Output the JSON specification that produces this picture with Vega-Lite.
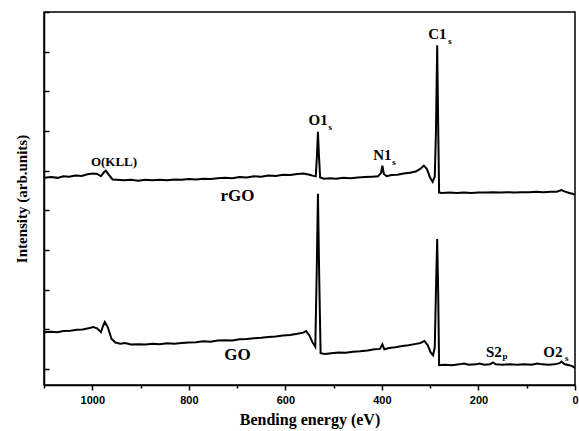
{
  "$schema": "https://vega.github.io/schema/vega-lite/v6.json",
  "width": 531,
  "height": 373,
  "autosize": "none",
  "padding": {"left": 44, "top": 12, "right": 4, "bottom": 46},
  "background": "white",
  "config": {
    "view": {"stroke": "black", "strokeWidth": 1.5},
    "axis": {"grid": false, "domainColor": "black", "domainWidth": 1.5, "tickColor": "black", "tickWidth": 1.5, "labelColor": "black", "titleColor": "black"}
  },
  "datasets": {
    "spectra": [
      {"series": "rGO", "energy": 1100, "intensity": 4.82},
      {"series": "rGO", "energy": 1085, "intensity": 4.84},
      {"series": "rGO", "energy": 1072, "intensity": 4.82},
      {"series": "rGO", "energy": 1060, "intensity": 4.86},
      {"series": "rGO", "energy": 1048, "intensity": 4.85},
      {"series": "rGO", "energy": 1035, "intensity": 4.88},
      {"series": "rGO", "energy": 1022, "intensity": 4.87},
      {"series": "rGO", "energy": 1010, "intensity": 4.91},
      {"series": "rGO", "energy": 998, "intensity": 4.93},
      {"series": "rGO", "energy": 990, "intensity": 4.92},
      {"series": "rGO", "energy": 982, "intensity": 4.86},
      {"series": "rGO", "energy": 976, "intensity": 4.96},
      {"series": "rGO", "energy": 972, "intensity": 5.0},
      {"series": "rGO", "energy": 966, "intensity": 4.9},
      {"series": "rGO", "energy": 958, "intensity": 4.78},
      {"series": "rGO", "energy": 948, "intensity": 4.77},
      {"series": "rGO", "energy": 935, "intensity": 4.76},
      {"series": "rGO", "energy": 920, "intensity": 4.77},
      {"series": "rGO", "energy": 905, "intensity": 4.75},
      {"series": "rGO", "energy": 890, "intensity": 4.77},
      {"series": "rGO", "energy": 875, "intensity": 4.76},
      {"series": "rGO", "energy": 860, "intensity": 4.77},
      {"series": "rGO", "energy": 845, "intensity": 4.76},
      {"series": "rGO", "energy": 830, "intensity": 4.78},
      {"series": "rGO", "energy": 815, "intensity": 4.77},
      {"series": "rGO", "energy": 800, "intensity": 4.79},
      {"series": "rGO", "energy": 785, "intensity": 4.78},
      {"series": "rGO", "energy": 770, "intensity": 4.8},
      {"series": "rGO", "energy": 755, "intensity": 4.79},
      {"series": "rGO", "energy": 740, "intensity": 4.81},
      {"series": "rGO", "energy": 725, "intensity": 4.82},
      {"series": "rGO", "energy": 710, "intensity": 4.81},
      {"series": "rGO", "energy": 695, "intensity": 4.84},
      {"series": "rGO", "energy": 680, "intensity": 4.83},
      {"series": "rGO", "energy": 665, "intensity": 4.86},
      {"series": "rGO", "energy": 650, "intensity": 4.85},
      {"series": "rGO", "energy": 635, "intensity": 4.88},
      {"series": "rGO", "energy": 620, "intensity": 4.87},
      {"series": "rGO", "energy": 605, "intensity": 4.9},
      {"series": "rGO", "energy": 590, "intensity": 4.89},
      {"series": "rGO", "energy": 575, "intensity": 4.92},
      {"series": "rGO", "energy": 562, "intensity": 4.93},
      {"series": "rGO", "energy": 550, "intensity": 4.9},
      {"series": "rGO", "energy": 542, "intensity": 4.87},
      {"series": "rGO", "energy": 537, "intensity": 4.86},
      {"series": "rGO", "energy": 534.5, "intensity": 5.4},
      {"series": "rGO", "energy": 532.5, "intensity": 5.98},
      {"series": "rGO", "energy": 530.5, "intensity": 5.4},
      {"series": "rGO", "energy": 528, "intensity": 4.83},
      {"series": "rGO", "energy": 520, "intensity": 4.8},
      {"series": "rGO", "energy": 508, "intensity": 4.81},
      {"series": "rGO", "energy": 495, "intensity": 4.8},
      {"series": "rGO", "energy": 480, "intensity": 4.82},
      {"series": "rGO", "energy": 465, "intensity": 4.81},
      {"series": "rGO", "energy": 450, "intensity": 4.83},
      {"series": "rGO", "energy": 435, "intensity": 4.84},
      {"series": "rGO", "energy": 420, "intensity": 4.85},
      {"series": "rGO", "energy": 408, "intensity": 4.86},
      {"series": "rGO", "energy": 402, "intensity": 4.94},
      {"series": "rGO", "energy": 399, "intensity": 5.13},
      {"series": "rGO", "energy": 396, "intensity": 4.92},
      {"series": "rGO", "energy": 390, "intensity": 4.86},
      {"series": "rGO", "energy": 380, "intensity": 4.89},
      {"series": "rGO", "energy": 368, "intensity": 4.9},
      {"series": "rGO", "energy": 355, "intensity": 4.93},
      {"series": "rGO", "energy": 342, "intensity": 4.95},
      {"series": "rGO", "energy": 330, "intensity": 4.98},
      {"series": "rGO", "energy": 320, "intensity": 5.05},
      {"series": "rGO", "energy": 313, "intensity": 5.13},
      {"series": "rGO", "energy": 307, "intensity": 5.05},
      {"series": "rGO", "energy": 300, "intensity": 4.82},
      {"series": "rGO", "energy": 295, "intensity": 4.72},
      {"series": "rGO", "energy": 290.5, "intensity": 4.85},
      {"series": "rGO", "energy": 288, "intensity": 6.0},
      {"series": "rGO", "energy": 285.5, "intensity": 8.16},
      {"series": "rGO", "energy": 283.5, "intensity": 6.2},
      {"series": "rGO", "energy": 281.5, "intensity": 4.45},
      {"series": "rGO", "energy": 275, "intensity": 4.44},
      {"series": "rGO", "energy": 260, "intensity": 4.45},
      {"series": "rGO", "energy": 245, "intensity": 4.44},
      {"series": "rGO", "energy": 230, "intensity": 4.45},
      {"series": "rGO", "energy": 215, "intensity": 4.44},
      {"series": "rGO", "energy": 200, "intensity": 4.45},
      {"series": "rGO", "energy": 185, "intensity": 4.45},
      {"series": "rGO", "energy": 170, "intensity": 4.46},
      {"series": "rGO", "energy": 155, "intensity": 4.45},
      {"series": "rGO", "energy": 140, "intensity": 4.46},
      {"series": "rGO", "energy": 125, "intensity": 4.45},
      {"series": "rGO", "energy": 110, "intensity": 4.46},
      {"series": "rGO", "energy": 95, "intensity": 4.46},
      {"series": "rGO", "energy": 80, "intensity": 4.47},
      {"series": "rGO", "energy": 65, "intensity": 4.46},
      {"series": "rGO", "energy": 50, "intensity": 4.47},
      {"series": "rGO", "energy": 38, "intensity": 4.47},
      {"series": "rGO", "energy": 28, "intensity": 4.51},
      {"series": "rGO", "energy": 22, "intensity": 4.48},
      {"series": "rGO", "energy": 12, "intensity": 4.44},
      {"series": "rGO", "energy": 5, "intensity": 4.42},
      {"series": "rGO", "energy": 0, "intensity": 4.39},

      {"series": "GO", "energy": 1100, "intensity": 0.93},
      {"series": "GO", "energy": 1085, "intensity": 0.94},
      {"series": "GO", "energy": 1072, "intensity": 0.93},
      {"series": "GO", "energy": 1060, "intensity": 0.96},
      {"series": "GO", "energy": 1045, "intensity": 0.97},
      {"series": "GO", "energy": 1032, "intensity": 0.99},
      {"series": "GO", "energy": 1020, "intensity": 1.0},
      {"series": "GO", "energy": 1008, "intensity": 1.03},
      {"series": "GO", "energy": 998, "intensity": 1.06},
      {"series": "GO", "energy": 990, "intensity": 1.03},
      {"series": "GO", "energy": 982, "intensity": 0.93},
      {"series": "GO", "energy": 978, "intensity": 1.08},
      {"series": "GO", "energy": 974, "intensity": 1.19},
      {"series": "GO", "energy": 968, "intensity": 1.06},
      {"series": "GO", "energy": 960, "intensity": 0.76},
      {"series": "GO", "energy": 952, "intensity": 0.67},
      {"series": "GO", "energy": 942, "intensity": 0.64},
      {"series": "GO", "energy": 932, "intensity": 0.66},
      {"series": "GO", "energy": 920, "intensity": 0.62},
      {"series": "GO", "energy": 905, "intensity": 0.63},
      {"series": "GO", "energy": 890, "intensity": 0.62},
      {"series": "GO", "energy": 875, "intensity": 0.64},
      {"series": "GO", "energy": 860, "intensity": 0.63},
      {"series": "GO", "energy": 845, "intensity": 0.65},
      {"series": "GO", "energy": 830, "intensity": 0.64},
      {"series": "GO", "energy": 815, "intensity": 0.66},
      {"series": "GO", "energy": 800, "intensity": 0.67},
      {"series": "GO", "energy": 785, "intensity": 0.68},
      {"series": "GO", "energy": 770, "intensity": 0.7},
      {"series": "GO", "energy": 755, "intensity": 0.69},
      {"series": "GO", "energy": 740, "intensity": 0.72},
      {"series": "GO", "energy": 725, "intensity": 0.73},
      {"series": "GO", "energy": 710, "intensity": 0.72},
      {"series": "GO", "energy": 695, "intensity": 0.75},
      {"series": "GO", "energy": 680, "intensity": 0.76},
      {"series": "GO", "energy": 665, "intensity": 0.78},
      {"series": "GO", "energy": 650, "intensity": 0.79},
      {"series": "GO", "energy": 635, "intensity": 0.81},
      {"series": "GO", "energy": 620, "intensity": 0.82},
      {"series": "GO", "energy": 605, "intensity": 0.85},
      {"series": "GO", "energy": 590, "intensity": 0.86},
      {"series": "GO", "energy": 575, "intensity": 0.89},
      {"series": "GO", "energy": 563, "intensity": 0.92},
      {"series": "GO", "energy": 557, "intensity": 0.96},
      {"series": "GO", "energy": 550, "intensity": 0.84},
      {"series": "GO", "energy": 544, "intensity": 0.68},
      {"series": "GO", "energy": 538, "intensity": 0.56},
      {"series": "GO", "energy": 535, "intensity": 2.5},
      {"series": "GO", "energy": 532.5, "intensity": 4.42},
      {"series": "GO", "energy": 530, "intensity": 2.4},
      {"series": "GO", "energy": 527, "intensity": 0.4},
      {"series": "GO", "energy": 518, "intensity": 0.38},
      {"series": "GO", "energy": 505, "intensity": 0.4},
      {"series": "GO", "energy": 490, "intensity": 0.42},
      {"series": "GO", "energy": 475, "intensity": 0.41},
      {"series": "GO", "energy": 460, "intensity": 0.44},
      {"series": "GO", "energy": 445, "intensity": 0.45},
      {"series": "GO", "energy": 430, "intensity": 0.47},
      {"series": "GO", "energy": 415, "intensity": 0.5},
      {"series": "GO", "energy": 404, "intensity": 0.51},
      {"series": "GO", "energy": 399, "intensity": 0.63},
      {"series": "GO", "energy": 395, "intensity": 0.5},
      {"series": "GO", "energy": 385, "intensity": 0.53},
      {"series": "GO", "energy": 372, "intensity": 0.55},
      {"series": "GO", "energy": 358, "intensity": 0.58},
      {"series": "GO", "energy": 345, "intensity": 0.6},
      {"series": "GO", "energy": 332, "intensity": 0.63},
      {"series": "GO", "energy": 320, "intensity": 0.66},
      {"series": "GO", "energy": 312, "intensity": 0.71},
      {"series": "GO", "energy": 305, "intensity": 0.6},
      {"series": "GO", "energy": 299, "intensity": 0.42},
      {"series": "GO", "energy": 294, "intensity": 0.35},
      {"series": "GO", "energy": 290.5, "intensity": 0.55},
      {"series": "GO", "energy": 288, "intensity": 2.0},
      {"series": "GO", "energy": 285.5, "intensity": 3.28},
      {"series": "GO", "energy": 283.5, "intensity": 2.0},
      {"series": "GO", "energy": 281.5, "intensity": 0.1},
      {"series": "GO", "energy": 270, "intensity": 0.11},
      {"series": "GO", "energy": 255, "intensity": 0.1},
      {"series": "GO", "energy": 240, "intensity": 0.12},
      {"series": "GO", "energy": 230, "intensity": 0.14},
      {"series": "GO", "energy": 220, "intensity": 0.11},
      {"series": "GO", "energy": 205, "intensity": 0.12},
      {"series": "GO", "energy": 198, "intensity": 0.14},
      {"series": "GO", "energy": 188, "intensity": 0.11},
      {"series": "GO", "energy": 176, "intensity": 0.12},
      {"series": "GO", "energy": 170, "intensity": 0.17},
      {"series": "GO", "energy": 164, "intensity": 0.12},
      {"series": "GO", "energy": 150, "intensity": 0.11},
      {"series": "GO", "energy": 135, "intensity": 0.12},
      {"series": "GO", "energy": 120, "intensity": 0.11},
      {"series": "GO", "energy": 105, "intensity": 0.12},
      {"series": "GO", "energy": 90, "intensity": 0.11},
      {"series": "GO", "energy": 78, "intensity": 0.14},
      {"series": "GO", "energy": 68, "intensity": 0.12},
      {"series": "GO", "energy": 55, "intensity": 0.11},
      {"series": "GO", "energy": 42, "intensity": 0.12},
      {"series": "GO", "energy": 32, "intensity": 0.15},
      {"series": "GO", "energy": 28, "intensity": 0.19},
      {"series": "GO", "energy": 22, "intensity": 0.13},
      {"series": "GO", "energy": 12, "intensity": 0.1},
      {"series": "GO", "energy": 5, "intensity": 0.07},
      {"series": "GO", "energy": 0, "intensity": 0.03}
    ],
    "peaks": [
      {"label": "O1", "energy": 532, "intensity": 6.29},
      {"label": "N1", "energy": 399, "intensity": 5.4},
      {"label": "C1", "energy": 285, "intensity": 8.45},
      {"label": "S2", "energy": 168, "intensity": 0.43},
      {"label": "O2", "energy": 46, "intensity": 0.43}
    ],
    "subs": [
      {"label": "s", "energy": 507, "intensity": 6.11},
      {"label": "s", "energy": 375, "intensity": 5.23},
      {"label": "s", "energy": 259, "intensity": 8.26},
      {"label": "p", "energy": 145, "intensity": 0.33},
      {"label": "s", "energy": 17, "intensity": 0.27}
    ],
    "names": [
      {"label": "rGO", "energy": 699, "intensity": 4.37},
      {"label": "GO", "energy": 699, "intensity": 0.35}
    ],
    "auger": [
      {"label": "O(KLL)", "energy": 955, "intensity": 5.23}
    ]
  },
  "layer": [
    {
      "data": {"name": "spectra"},
      "mark": {"type": "line", "color": "black", "strokeWidth": 2, "clip": true},
      "encoding": {
        "x": {
          "field": "energy", "type": "quantitative",
          "scale": {"domain": [0, 1100], "reverse": true, "nice": false, "zero": false},
          "axis": {
            "title": "Bending energy (eV)",
            "titleFont": "Liberation Serif", "titleFontSize": 16, "titleFontWeight": "bold", "titlePadding": 6,
            "values": [1100, 1000, 900, 800, 700, 600, 500, 400, 300, 200, 100, 0],
            "format": "d",
            "labelExpr": "datum.value % 200 === 0 ? datum.label : ''",
            "labelFont": "Liberation Sans", "labelFontSize": 11, "labelFontWeight": "bold", "labelPadding": 4,
            "tickSize": {"condition": {"test": "datum.value % 200 === 0", "value": 5}, "value": 3},
            "labelOverlap": false, "labelFlush": false
          }
        },
        "y": {
          "field": "intensity", "type": "quantitative",
          "scale": {"domain": [-0.4, 9], "nice": false, "zero": false},
          "axis": {
            "title": "Intensity (arb.units)",
            "titleFont": "Liberation Serif", "titleFontSize": 15, "titleFontWeight": "bold", "titlePadding": 14,
            "values": [0, 1, 2, 3, 4, 5, 6, 7, 8, 9],
            "labels": false, "tickSize": -5
          }
        },
        "detail": {"field": "series"}
      }
    },
    {
      "data": {"name": "peaks"},
      "mark": {"type": "text", "font": "Liberation Serif", "fontWeight": "bold", "fontSize": 15, "color": "black", "baseline": "middle", "align": "center"},
      "encoding": {
        "x": {"field": "energy", "type": "quantitative"},
        "y": {"field": "intensity", "type": "quantitative"},
        "text": {"field": "label"}
      }
    },
    {
      "data": {"name": "subs"},
      "mark": {"type": "text", "font": "Liberation Serif", "fontWeight": "bold", "fontSize": 9, "color": "black", "baseline": "middle", "align": "center"},
      "encoding": {
        "x": {"field": "energy", "type": "quantitative"},
        "y": {"field": "intensity", "type": "quantitative"},
        "text": {"field": "label"}
      }
    },
    {
      "data": {"name": "names"},
      "mark": {"type": "text", "font": "Liberation Serif", "fontWeight": "bold", "fontSize": 17, "color": "black", "baseline": "middle", "align": "center"},
      "encoding": {
        "x": {"field": "energy", "type": "quantitative"},
        "y": {"field": "intensity", "type": "quantitative"},
        "text": {"field": "label"}
      }
    },
    {
      "data": {"name": "auger"},
      "mark": {"type": "text", "font": "Liberation Serif", "fontWeight": "bold", "fontSize": 13, "color": "black", "baseline": "middle", "align": "center"},
      "encoding": {
        "x": {"field": "energy", "type": "quantitative"},
        "y": {"field": "intensity", "type": "quantitative"},
        "text": {"field": "label"}
      }
    }
  ]
}
